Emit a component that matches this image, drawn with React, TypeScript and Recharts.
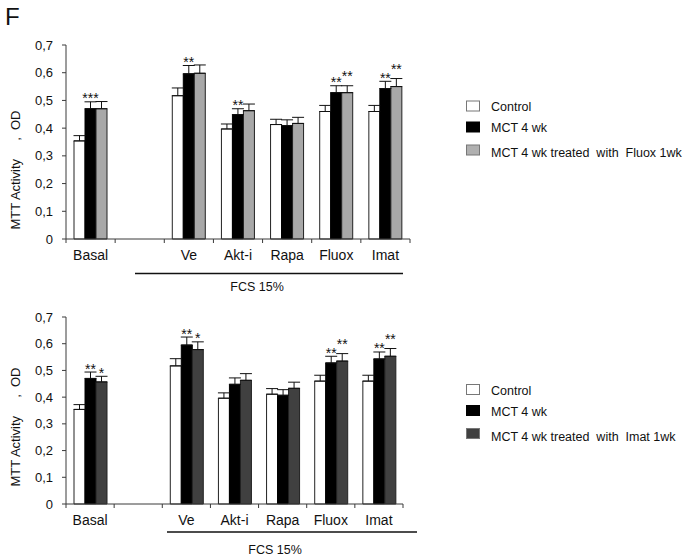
import React from 'react';
import { BarChart, Bar, XAxis, YAxis, ErrorBar, LabelList } from 'recharts';

// categories on the x axis (second slot is the empty gap before the FCS 15% group)
const categories = ['Basal', '', 'Ve', 'Akt-i', 'Rapa', 'Fluox', 'Imat'];

// top panel (Fluox treatment)
const controlValuesA = [0.354, null, 0.517, 0.397, 0.413, 0.46, 0.46];
const controlErrorsA = [0.019, null, 0.028, 0.018, 0.019, 0.022, 0.022];
const mctValuesA = [0.47, null, 0.596, 0.449, 0.409, 0.528, 0.543];
const mctErrorsA = [0.025, null, 0.03, 0.021, 0.021, 0.025, 0.026];
const fluoxValues = [0.47, null, 0.598, 0.463, 0.417, 0.528, 0.55];
const fluoxErrors = [0.026, null, 0.03, 0.024, 0.022, 0.025, 0.029];
const mctStarsA = ['***', null, '**', '**', null, '**', '**'];
const fluoxStars = [null, null, null, null, null, '**', '**'];

// bottom panel (Imat treatment)
const controlValuesB = [0.354, null, 0.517, 0.396, 0.411, 0.46, 0.46];
const controlErrorsB = [0.018, null, 0.027, 0.02, 0.021, 0.022, 0.022];
const mctValuesB = [0.47, null, 0.595, 0.448, 0.407, 0.528, 0.543];
const mctErrorsB = [0.024, null, 0.03, 0.024, 0.021, 0.025, 0.026];
const imatValues = [0.457, null, 0.578, 0.463, 0.433, 0.535, 0.553];
const imatErrors = [0.021, null, 0.029, 0.025, 0.023, 0.028, 0.029];
const mctStarsB = ['**', null, '**', null, null, '**', '**'];
const imatStars = ['*', null, '*', null, null, '**', '**'];

const yTicks = [0, 0.1, 0.2, 0.3, 0.4, 0.5, 0.6, 0.7];

const AXIS = '#3a3a3a';
const FONT = '"Liberation Sans", Arial, sans-serif';

type Row = {
  name: string;
  control: number | null;
  controlErr: number | null;
  mct: number | null;
  mctErr: number | null;
  treated: number | null;
  treatedErr: number | null;
  mctStar: string | null;
  treatedStar: string | null;
};

function buildRows(
  cv: (number | null)[], ce: (number | null)[],
  mv: (number | null)[], me: (number | null)[],
  tv: (number | null)[], te: (number | null)[],
  ms: (string | null)[], ts: (string | null)[],
): Row[] {
  return categories.map((name, i) => ({
    name,
    control: cv[i], controlErr: ce[i],
    mct: mv[i], mctErr: me[i],
    treated: tv[i], treatedErr: te[i],
    mctStar: ms[i], treatedStar: ts[i],
  }));
}

const rowsA = buildRows(controlValuesA, controlErrorsA, mctValuesA, mctErrorsA, fluoxValues, fluoxErrors, mctStarsA, fluoxStars);
const rowsB = buildRows(controlValuesB, controlErrorsB, mctValuesB, mctErrorsB, imatValues, imatErrors, mctStarsB, imatStars);

const fmtTick = (v: number) => (v === 0 ? '0' : v.toFixed(1).replace('.', ','));

const errKey = (key: 'controlErr' | 'mctErr' | 'treatedErr') => (d: any) =>
  d[key] == null ? undefined : [0, d[key]];

// asterisks sit just above the error bar cap; label index counts drawn bars only
const starLabel = (rows: Row[], valueKey: keyof Row, eKey: keyof Row, starKey: keyof Row, prevKey?: keyof Row) => {
  const drawn = rows.filter((r) => r[valueKey] != null);
  return (props: any) => {
    const vb = props.viewBox ?? props;
    const { x, y, width, height } = vb;
    const row = drawn[props.index];
    if (!row) return null;
    const star = row[starKey] as string | null;
    const val = row[valueKey] as number | null;
    if (!star || !val) return null;
    const pxPerUnit = Math.abs(height) / val;
    const top = Math.min(y, y + height) - (row[eKey] as number) * pxPerUnit;
    const lift = prevKey && row[prevKey] && star.length > 1 ? 6 : 0;
    return (
      <text x={x + width / 2} y={top + 1.5 - lift} textAnchor="middle" fontSize={14} fill="#111" fontFamily={FONT}>
        {star}
      </text>
    );
  };
};

const makeTick = (halfBand: number) => (props: any) => {
  const { x, y, payload, index, visibleTicksCount } = props;
  const half = payload?.offset > 0 ? payload.offset : halfBand;
  const last = index === (visibleTicksCount ?? categories.length) - 1;
  return (
    <g>
      <line x1={x - half} x2={x - half} y1={y} y2={y + 4} stroke={AXIS} />
      {last && <line x1={x + half} x2={x + half} y1={y} y2={y + 4} stroke={AXIS} />}
      <text x={x} y={y + 21} textAnchor="middle" fontSize={14} fill="#111" fontFamily={FONT}>
        {payload.value}
      </text>
    </g>
  );
};

type PanelProps = {
  rows: Row[];
  top: number;
  height: number;
  margin: { top: number; right: number; bottom: number; left: number };
  treatedFill: string;
  halfBand: number;
};

function Panel({ rows, top, height, margin, treatedFill, halfBand }: PanelProps) {
  return (
    <div style={{ position: 'absolute', left: 0, top }}>
      <BarChart width={687} height={height} data={rows} margin={margin} barSize={11} barGap={0}>
        <XAxis
          dataKey="name"
          interval={0}
          height={40}
          tickSize={0}
          tickMargin={0}
          tickLine={false}
          axisLine={{ stroke: AXIS }}
          tick={makeTick(halfBand)}
        />
        <YAxis
          width={66}
          domain={[0, 0.7]}
          ticks={yTicks}
          interval={0}
          tickSize={4}
          tickMargin={9}
          tickFormatter={fmtTick}
          axisLine={{ stroke: AXIS }}
          tickLine={{ stroke: AXIS }}
          tick={{ fontSize: 13, fill: '#111', fontFamily: FONT }}
        />
        <Bar dataKey="control" fill="#ffffff" stroke="#222" strokeWidth={1} isAnimationActive={false}>
          <ErrorBar dataKey={errKey('controlErr')} width={6} stroke="#111" strokeWidth={1} direction="y" />
        </Bar>
        <Bar dataKey="mct" fill="#000000" stroke="#000" strokeWidth={1} isAnimationActive={false}>
          <ErrorBar dataKey={errKey('mctErr')} width={6} stroke="#111" strokeWidth={1} direction="y" />
          <LabelList dataKey="mctStar" content={starLabel(rows, 'mct', 'mctErr', 'mctStar')} />
        </Bar>
        <Bar dataKey="treated" fill={treatedFill} stroke="#222" strokeWidth={1} isAnimationActive={false}>
          <ErrorBar dataKey={errKey('treatedErr')} width={6} stroke="#111" strokeWidth={1} direction="y" />
          <LabelList dataKey="treatedStar" content={starLabel(rows, 'treated', 'treatedErr', 'treatedStar', 'mctStar')} />
        </Bar>
      </BarChart>
    </div>
  );
}

function LegendBlock({ top, gray, label }: { top: number; gray: string; label: string }) {
  const items = [
    { fill: '#ffffff', stroke: '#777', text: 'Control', dy: 0 },
    { fill: '#000000', stroke: '#000', text: 'MCT 4 wk', dy: 21 },
    { fill: gray, stroke: '#777', text: label, dy: 44 },
  ];
  return (
    <g>
      {items.map((it) => (
        <g key={it.text}>
          <rect x={466.5} y={top + it.dy - 5} width={13} height={10} fill={it.fill} stroke={it.stroke} />
          <text x={491} y={top + it.dy + 5 + (it.dy > 30 ? 2 : 0)} fontSize={12.5} fill="#111" style={{ whiteSpace: 'pre' }}>
            {it.text}
          </text>
        </g>
      ))}
    </g>
  );
}

export default function App() {
  return (
    <div style={{ position: 'absolute', left: 0, top: 0, width: 687, height: 560, background: '#fff', fontFamily: FONT }}>
      <Panel
        rows={rowsA}
        top={0}
        height={300}
        margin={{ top: 45, right: 277, bottom: 21, left: 0 }}
        treatedFill="#a8a8a8"
        halfBand={24.6}
      />
      <Panel
        rows={rowsB}
        top={290}
        height={270}
        margin={{ top: 27, right: 284, bottom: 16, left: 0 }}
        treatedFill="#404040"
        halfBand={24.1}
      />
      <svg width={687} height={560} style={{ position: 'absolute', left: 0, top: 0, pointerEvents: 'none', fontFamily: FONT }}>
        <text x={5} y={25} fontSize={24} fill="#111">F</text>

        <text
          transform="translate(20,170) rotate(-90)"
          textAnchor="middle"
          fontSize={13}
          fill="#111"
          style={{ whiteSpace: 'pre' }}
        >
          {'MTT Activity     ,  OD'}
        </text>
        <text
          transform="translate(20,427) rotate(-90)"
          textAnchor="middle"
          fontSize={13}
          fill="#111"
          style={{ whiteSpace: 'pre' }}
        >
          {'MTT Activity     ,  OD'}
        </text>

        <line x1={135} x2={403} y1={273.5} y2={273.5} stroke="#111" strokeWidth={1.3} />
        <text x={257} y={291} textAnchor="middle" fontSize={12.5} fill="#111">FCS 15%</text>
        <line x1={167} x2={417} y1={532} y2={532} stroke="#111" strokeWidth={1.3} />
        <text x={275} y={554} textAnchor="middle" fontSize={12.5} fill="#111">FCS 15%</text>

        <LegendBlock top={106} gray="#b0b0b0" label="MCT 4 wk treated  with  Fluox 1wk" />
        <LegendBlock top={389.5} gray="#404040" label="MCT 4 wk treated  with  Imat 1wk" />
      </svg>
    </div>
  );
}
